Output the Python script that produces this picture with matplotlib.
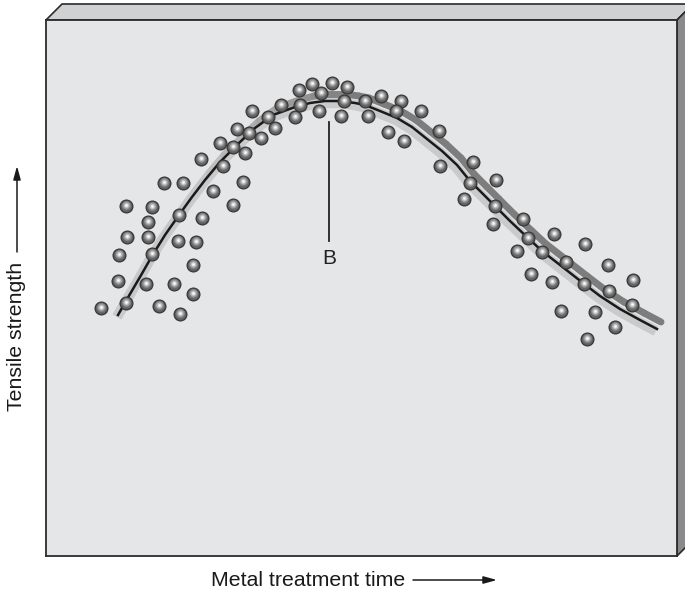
import matplotlib
matplotlib.use('Agg')
import matplotlib.pyplot as plt
import numpy as np
from matplotlib.patches import Polygon
from matplotlib.collections import LineCollection
import matplotlib.transforms as mtransforms

plt.rcParams['font.family'] = ['Liberation Sans', 'DejaVu Sans']

# ---- data (arbitrary units) ----
time_pts = [55, 80, 72, 100, 113, 134, 128, 147, 73, 106, 147, 81, 102, 132, 150,
            80, 102, 106, 133, 156, 118, 137, 167, 187, 197, 155, 177, 174, 187, 199,
            191, 203, 215, 206, 222, 229, 235, 249, 254, 253, 266, 286, 301, 275, 273,
            295, 298, 319, 322, 335, 355, 350, 375, 342, 358, 393, 394, 427, 424, 418,
            450, 449, 447, 477, 482, 471, 496, 508, 520, 539, 485, 506, 538, 562, 563,
            587, 586, 515, 549, 569, 541]
strength_pts = [248, 253, 275, 272, 250, 242, 272, 262, 301, 302, 291, 319, 319, 315, 314,
                350, 334, 349, 341, 338, 373, 373, 365, 351, 374, 397, 390, 413, 409, 403,
                427, 423, 418, 445, 439, 428, 451, 439, 451, 466, 472, 473, 469, 463, 445,
                440, 455, 455, 440, 460, 455, 445, 445, 424, 415, 425, 390, 394, 373, 357,
                376, 350, 332, 337, 318, 305, 304, 322, 294, 312, 282, 274, 272, 291, 265,
                276, 251, 245, 244, 229, 217]

fit_time = [72, 84, 94, 106, 119, 133, 146, 159, 174, 194, 209, 227, 249, 264, 279,
            294, 309, 319, 334, 351, 366, 381, 396, 411, 424, 437, 449, 464, 482, 496,
            514, 537, 554, 574, 594, 611]
fit_strength = [241, 262, 279, 300, 321, 341, 359, 376, 394, 414, 428, 441, 449, 453, 455,
                455, 453, 451, 445, 438, 429, 417, 405, 391, 375, 362, 350, 335, 318, 305,
                291, 273, 260, 247, 236, 227]

marker_label = 'B'
marker_time = 283
marker_top = 434
marker_bottom = 315

x_label = 'Metal treatment time'
y_label = 'Tensile strength'

# ---- figure ----
W, H = 685, 592
fig = plt.figure(figsize=(6.85, 5.92), dpi=100)
fig.patch.set_facecolor('white')

bg = fig.add_axes([0, 0, 1, 1])
bg.set_xlim(0, W)
bg.set_ylim(H, 0)
bg.axis('off')

L, T, R, B = 46, 20, 677, 556
d = 16
top = Polygon([(L, T), (L + d, T - d), (R + d, T - d), (R, T)], closed=True,
              fc='#d0d1d3', ec='#2b2b2b', lw=1.2, zorder=1)
side = Polygon([(R, T), (R + d, T - d), (R + d, B - d), (R, B)], closed=True,
               fc='#8a8a8c', ec='#2b2b2b', lw=1.2, zorder=1)
bg.add_patch(top)
bg.add_patch(side)

ax = fig.add_axes([L / W, 1 - B / H, (R - L) / W, (B - T) / H])
ax.set_xlim(0, R - L)
ax.set_ylim(0, B - T)
ax.set_facecolor('#e5e6e8')
ax.set_xticks([])
ax.set_yticks([])
for s in ax.spines.values():
    s.set_color('#2b2b2b')
    s.set_linewidth(1.3)


def shift(dx, dy):
    return ax.transData + mtransforms.ScaledTranslation(dx / 100, dy / 100, fig.dpi_scale_trans)


# light halo
ax.plot(fit_time, fit_strength, color='#c9cacc', lw=7.5, transform=shift(-1, -2),
        solid_capstyle='butt', solid_joinstyle='round', zorder=2)
# gray band with gradient
pts = np.column_stack([fit_time, fit_strength]).astype(float)
segs = np.stack([pts[:-1], pts[1:]], axis=1)
mid = (pts[:-1, 0] + pts[1:, 0]) / 2
tt = np.clip((mid - 150) / 150, 0, 1)
cols = [(0.78 - 0.29 * v,) * 3 for v in tt]
lc = LineCollection(segs, colors=cols, linewidths=5.0, transform=shift(4, 7),
                    capstyle='round', joinstyle='round', zorder=3)
ax.add_collection(lc)
# black fit line
ax.plot(fit_time, fit_strength, color='#1a1a1a', lw=1.8, solid_joinstyle='round', zorder=4)

# marker line + label
ax.plot([marker_time, marker_time], [marker_bottom, marker_top], color='#222222', lw=1.3, zorder=4)
ax.text(marker_time, marker_bottom - 17, marker_label, ha='center', va='center',
        fontsize=15, color='#222222', zorder=4)

# shaded spheres
layers = [(14.0, '#2f2f2f', 0, 0), (12.4, '#4d4d4d', 0, 0.2), (10.8, '#666666', -0.1, 0.4),
          (9.2, '#7e7e7e', -0.2, 0.6), (7.6, '#969696', -0.3, 0.8), (6.0, '#b0b0b0', -0.4, 1.0),
          (4.5, '#cccccc', -0.4, 1.1), (3.0, '#e8e8e8', -0.5, 1.2), (1.6, '#ffffff', -0.5, 1.2)]
for xi, yi in zip(time_pts, strength_pts):
    for diam, c, dx, dy in layers:
        ax.scatter([xi], [yi], s=(diam * 0.72) ** 2, c=c, linewidths=0,
                   transform=shift(dx, dy), zorder=5)

# axis labels with arrows
bg.text(17, 336, y_label, rotation=90, ha='center', va='center', fontsize=15.3, color='#1a1a1a')
bg.annotate('', xy=(17, 166), xytext=(17, 252),
            arrowprops=dict(arrowstyle='-|>,head_length=0.8,head_width=0.22',
                            color='#1a1a1a', lw=1.1, shrinkA=0, shrinkB=0))
bg.text(308, 580, x_label, ha='center', va='center', fontsize=15.3, color='#1a1a1a')
bg.annotate('', xy=(497, 580), xytext=(413, 580),
            arrowprops=dict(arrowstyle='-|>,head_length=0.8,head_width=0.22',
                            color='#1a1a1a', lw=1.1, shrinkA=0, shrinkB=0))

fig.savefig('out.png', dpi=100, facecolor='white')
